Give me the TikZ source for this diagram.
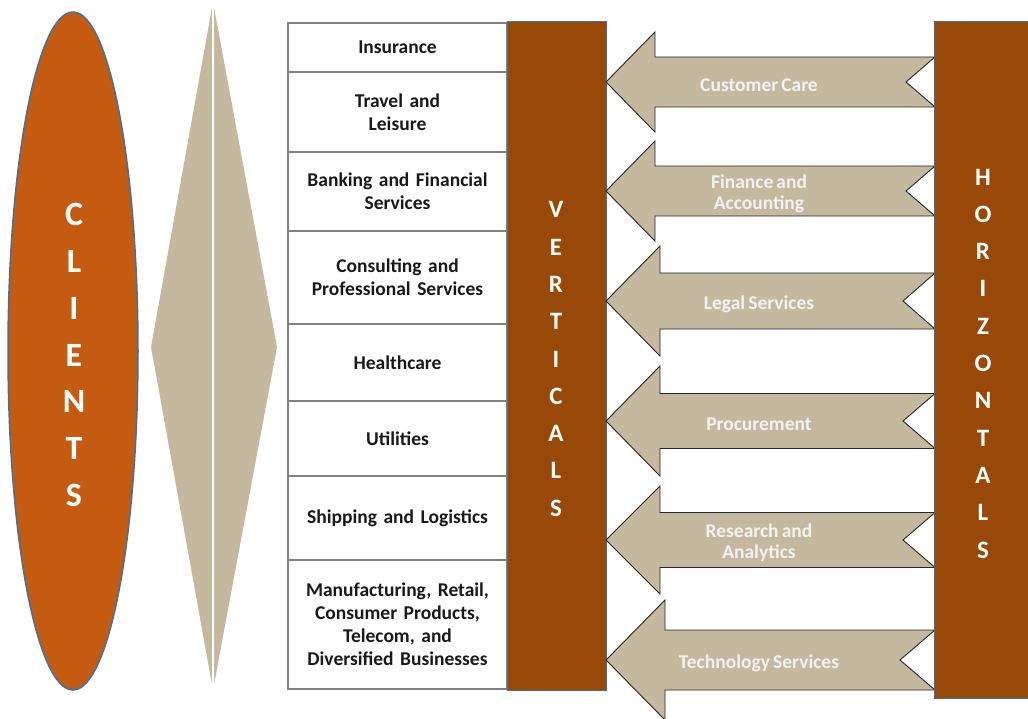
\documentclass[tikz,border=0pt]{standalone}
\usepackage{fontspec}
\setmainfont{Carlito}[WordSpace=0.7]
\usetikzlibrary{shapes.geometric}
\definecolor{clientorange}{HTML}{C55A11}
\definecolor{brownbox}{HTML}{984807}
\definecolor{tanfill}{HTML}{C4B89E}
\definecolor{edgeblue}{HTML}{41719C}
\definecolor{cellgray}{HTML}{808080}
\definecolor{lighttext}{HTML}{F2F2F2}
\newcommand\myarrow[7]{%
  \filldraw[arrowshape] (606,#1) -- (#2,#1-#3) -- (#2,#1-#4) -- (935,#1-#4)
    -- (#5,#1) -- (935,#1+#4) -- (#2,#1+#4) -- (#2,#1+#3) -- cycle;
  \node[arrowtext] (#6) at (759,#1+3) {#7};}
\begin{document}
\begin{tikzpicture}[x=1pt,y=-1pt,
  cell/.style={draw=cellgray, line width=1.6pt, fill=white, minimum width=219pt,
    text width=212pt, align=center, inner sep=0pt, inner ysep=0pt,
    font=\bfseries\fontsize{19.5}{23}\selectfont, text=black!90},
  arrowshape/.style={fill=tanfill, draw=black!85, line width=0.9pt, line join=miter},
  arrowtext/.style={text=lighttext, align=center, font=\bfseries\fontsize{19.5}{21}\selectfont, inner sep=0pt},
  bigletters/.style={text=white, align=center, font=\bfseries\fontsize{25}{37.3}\selectfont, inner sep=0pt}]
\useasboundingbox (0,0) rectangle (1028,719);
% clients ellipse
\node[ellipse, fill=clientorange, draw=edgeblue, line width=1.5pt,
  minimum width=130pt, minimum height=678pt, inner sep=0pt] (clients) at (73,351) {};
\node[text=white, align=center, inner sep=0pt, font=\bfseries\fontsize{34}{46.7}\selectfont]
  (clientslbl) at (74,355) {C\\L\\I\\E\\N\\T\\S};
% diamond
\fill[tanfill] (213,2) -- (277,347) -- (213,690) -- (151,347) -- cycle;
\draw[white, line width=2pt] (213,2) -- (213,690);
% table of verticals
\node[cell, minimum height=49pt] (ins) at (397.5,47.5) {\raisebox{-1.5pt}{Insurance}};
\node[cell, minimum height=80pt] (trav) at (397.5,112) {\raisebox{-1.5pt}{Travel and}\\\raisebox{-1.5pt}{Leisure}};
\node[cell, minimum height=79pt] (bank) at (397.5,191.5) {\raisebox{-1.5pt}{Banking and Financial}\\\raisebox{-1.5pt}{Services}};
\node[cell, minimum height=93pt] (cons) at (397.5,277.5) {\raisebox{-1.5pt}{Consulting and}\\\raisebox{-1.5pt}{Professional Services}};
\node[cell, minimum height=77pt] (health) at (397.5,362.5) {\raisebox{-1.5pt}{Healthcare}};
\node[cell, minimum height=75pt] (util) at (397.5,438.5) {\raisebox{-1.5pt}{Utilities}};
\node[cell, minimum height=84pt] (ship) at (397.5,518) {\raisebox{-1.5pt}{Shipping and Logistics}};
\node[cell, minimum height=129pt] (manu) at (397.5,624.5) {\raisebox{-1.5pt}{Manufacturing, Retail,}\\\raisebox{-1.5pt}{Consumer Products,}\\\raisebox{-1.5pt}{Telecom, and}\\\raisebox{-1.5pt}{Diversified Businesses}};
% verticals box
\node[fill=brownbox, draw=edgeblue, line width=1pt, minimum width=99pt, minimum height=668pt,
  inner sep=0pt] (vert) at (556.5,356) {};
\node[bigletters] (vertlbl) at (556,359) {V\\E\\R\\T\\I\\C\\A\\L\\S};
% arrows
\myarrow{82}{655}{50}{25}{906}{a1}{Customer Care}
\myarrow{191}{655}{50}{25}{906}{a2}{Finance and\\Accounting}
\myarrow{301}{660}{55}{28}{903}{a3}{Legal Services}
\myarrow{421}{660}{55}{27.5}{903}{a4}{Procurement}
\myarrow{540}{660}{54}{27.5}{903}{a5}{Research and\\Analytics}
\myarrow{660}{665}{60}{30}{900}{a6}{Technology Services}
% horizontals box
\fill[brownbox] (934,22) rectangle (1030,698);
\draw[edgeblue, line width=1pt] (1030,22) -- (934,22) -- (934,698) -- (1030,698);
\node[bigletters] (horlbl) at (983,363.5) {H\\O\\R\\I\\Z\\O\\N\\T\\A\\L\\S};
\end{tikzpicture}
\end{document}
